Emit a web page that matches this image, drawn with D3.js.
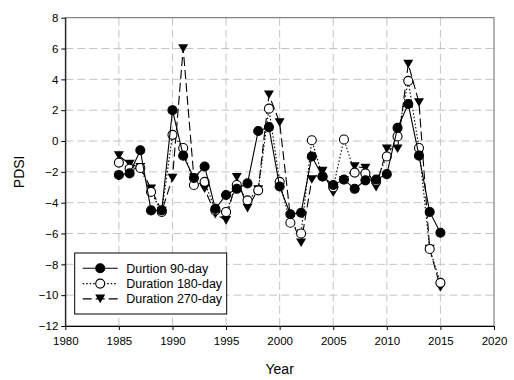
<!DOCTYPE html>
<html>
<head>
<meta charset="utf-8">
<script src="https://cdn.jsdelivr.net/npm/d3@7"></script>
<style>
  body { margin: 0; background: #fff; }
  svg { display: block; font-family: "Liberation Sans", Arial, sans-serif; }
</style>
</head>
<body>
<div id="chart"></div>
<script>
const years = d3.range(1985, 2016);
const pdsi90 = [-2.2, -2.1, -0.6, -4.5, -4.5, 2.0, -0.95, -2.4, -1.65, -4.4, -3.5, -3.1, -2.75, 0.65, 0.9, -2.95,
  -4.75, -4.65, -1.0, -2.3, -2.85, -2.5, -3.1, -2.55, -2.5, -2.15, 0.85, 2.4, -0.95, -4.6, -5.95];
const pdsi180 = [-1.4, -1.8, -1.75, -3.3, -4.6, 0.4, -0.45, -2.85, -2.65, -4.5, -4.6, -2.85, -3.85, -3.2, 2.1, -2.65,
  -5.3, -6.0, 0.05, -2.3, -3.0, 0.1, -2.05, -2.1, -2.6, -1.0, 0.3, 3.9, -0.45, -7.0, -9.2];
const pdsi270 = [-0.95, -1.5, -1.7, -3.1, -4.55, -2.4, 6.0, -2.4, -3.1, -4.75, -5.15, -2.35, -4.35, -3.15, 3.0, 1.2,
  -4.9, -6.6, -2.5, -1.95, -3.35, -2.55, -1.65, -1.75, -3.0, -0.5, -0.5, 5.0, 2.5, -7.0, -9.5];
const xTicks = d3.range(1980, 2021, 5);
const yTicks = d3.range(-12, 9, 2);
const seriesNames = ["Durtion 90-day", "Duration 180-day", "Duration 270-day"];

const width = 514, height = 380;
const margin = { top: 17.7, right: 20, bottom: 54, left: 65.3 };
const innerW = width - margin.left - margin.right;
const innerH = height - margin.top - margin.bottom;

const svg = d3.select('#chart').append('svg')
  .attr('width', width)
  .attr('height', height);

const g = svg.append('g')
  .attr('transform', `translate(${margin.left},${margin.top})`);

const x = d3.scaleLinear().domain([1980, 2020]).range([0, innerW]);
const y = d3.scaleLinear().domain([-12, 8]).range([innerH, 0]);

// grid
g.append('g').selectAll('line')
  .data(xTicks.slice(1, -1))
  .join('line')
  .attr('x1', d => x(d)).attr('x2', d => x(d))
  .attr('y1', 0).attr('y2', innerH)
  .attr('stroke', '#c4c4c4').attr('stroke-width', 1)
  .attr('stroke-dasharray', '8,4');

g.append('g').selectAll('line')
  .data(yTicks.slice(1, -1))
  .join('line')
  .attr('x1', 0).attr('x2', innerW)
  .attr('y1', d => y(d)).attr('y2', d => y(d))
  .attr('stroke', '#c4c4c4').attr('stroke-width', 1)
  .attr('stroke-dasharray', '8,4');

// frame
g.append('rect')
  .attr('width', innerW).attr('height', innerH)
  .attr('fill', 'none').attr('stroke', '#666').attr('stroke-width', 1);

// axes
const xAxis = g.append('g')
  .attr('transform', `translate(0,${innerH})`)
  .call(d3.axisBottom(x).tickValues(xTicks).tickFormat(d3.format('d')).tickSize(4).tickSizeOuter(0));
const yAxis = g.append('g')
  .call(d3.axisLeft(y).tickValues(yTicks).tickSize(4).tickSizeOuter(0));

[xAxis, yAxis].forEach(a => {
  a.select('.domain').attr('stroke', '#000');
  a.selectAll('.tick line').attr('stroke', '#000');
  a.selectAll('.tick text')
    .attr('fill', '#000')
    .style('font-size', '11.5px')
    .style('font-family', '"Liberation Sans", Arial, sans-serif');
});
xAxis.selectAll('.tick text').attr('dy', '1.05em');
yAxis.selectAll('.tick text').attr('x', -7);

// axis titles
svg.append('text')
  .attr('x', margin.left + innerW / 2).attr('y', 374)
  .attr('text-anchor', 'middle')
  .style('font-size', '14px')
  .text('Year');

svg.append('text')
  .attr('transform', `translate(24,${margin.top + innerH / 2}) rotate(-90)`)
  .attr('text-anchor', 'middle')
  .style('font-size', '14px')
  .text('PDSI');

const triangle = 'M-5,-4.3L5,-4.3L0,4.3Z';

const series = [
  { name: seriesNames[2], values: pdsi270, dash: '9,4', marker: 'tri', fill: '#000' },
  { name: seriesNames[1], values: pdsi180, dash: '1.5,2', marker: 'circle', fill: '#fff' },
  { name: seriesNames[0], values: pdsi90, dash: null, marker: 'circle', fill: '#000' }
];

const line = d3.line()
  .x((d, i) => x(years[i]))
  .y(d => y(d));

series.forEach(s => {
  const sg = g.append('g');
  sg.append('path')
    .datum(s.values)
    .attr('d', line)
    .attr('fill', 'none')
    .attr('stroke', '#000')
    .attr('stroke-width', 1.1)
    .attr('stroke-dasharray', s.dash);

  if (s.marker === 'tri') {
    sg.selectAll('path.mk')
      .data(s.values)
      .join('path')
      .attr('class', 'mk')
      .attr('d', triangle)
      .attr('transform', (d, i) => `translate(${x(years[i])},${y(d)})`)
      .attr('fill', '#000');
  } else {
    sg.selectAll('circle')
      .data(s.values)
      .join('circle')
      .attr('cx', (d, i) => x(years[i]))
      .attr('cy', d => y(d))
      .attr('r', 4.5)
      .attr('fill', s.fill)
      .attr('stroke', '#000')
      .attr('stroke-width', 1.1);
  }
});

// legend
const legend = svg.append('g').attr('transform', 'translate(74.7,253)');
legend.append('rect')
  .attr('width', 152).attr('height', 61)
  .attr('fill', '#fff').attr('stroke', '#000').attr('stroke-width', 1);

const legendItems = [series[2], series[1], series[0]];
const items = legend.selectAll('.legend-item')
  .data(legendItems)
  .join('g')
  .attr('class', 'legend-item')
  .attr('transform', (d, i) => `translate(0,${15.3 + i * 15.3})`);

items.append('line')
  .attr('x1', 8).attr('x2', 43)
  .attr('stroke', '#000').attr('stroke-width', 1.1)
  .attr('stroke-dasharray', d => d.dash);

items.each(function (d) {
  const it = d3.select(this);
  if (d.marker === 'tri') {
    it.append('path').attr('d', triangle).attr('transform', 'translate(25.5,0)').attr('fill', '#000');
  } else {
    it.append('circle').attr('cx', 25.5).attr('r', 4.5)
      .attr('fill', d.fill).attr('stroke', '#000').attr('stroke-width', 1.1);
  }
});

items.append('text')
  .attr('x', 51.5).attr('dy', '0.36em')
  .style('font-size', '12.5px')
  .text(d => d.name);
</script>
</body>
</html>
